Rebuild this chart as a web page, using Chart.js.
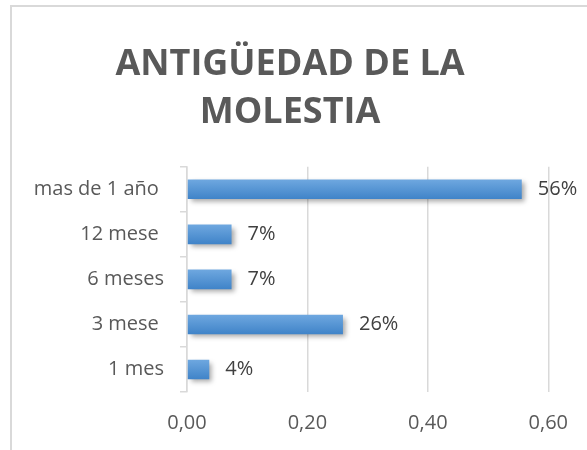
<!DOCTYPE html>
<html>
<head>
<meta charset="utf-8">
<script src="https://cdn.jsdelivr.net/npm/chart.js@4"></script>
<style>
  html, body { margin: 0; padding: 0; background: #fff; overflow: hidden; }
  #wrap { position: relative; width: 587px; height: 450px; }
  #frame { position: absolute; left: 10px; top: 5px; width: 620px; height: 500px;
           border: 2px solid #d9d9d9; box-sizing: border-box; pointer-events: none; }
</style>
</head>
<body>
<div id="wrap">
  <canvas id="chart" width="587" height="450"></canvas>
  <div id="frame"></div>
</div>
<script>
const titleLines = ['ANTIGÜEDAD DE LA', 'MOLESTIA'];
const categories = ['mas de 1 año ', '12 mese ', '6 meses', '3 mese ', '1 mes'];
const values = [0.556, 0.074, 0.074, 0.259, 0.037];
const xTicks = [0, 0.2, 0.4, 0.6];

const FONT = '"Open Sans", "Noto Sans", sans-serif';
const GREY = '#595959';

// gradient fill per bar, like the Excel style
function barFill(c) {
  const chart = c.chart;
  const y = chart.scales && chart.scales.y;
  if (!y || c.dataIndex === undefined) return '#5b9bd5';
  const cy = y.getPixelForValue(c.dataIndex);
  if (!isFinite(cy)) return '#5b9bd5';
  const g = chart.ctx.createLinearGradient(0, cy - 10, 0, cy + 10);
  g.addColorStop(0, '#6fa8e0');
  g.addColorStop(1, '#3f83c8');
  return g;
}

// drop shadow under the bars + value labels
const barExtras = {
  id: 'barExtras',
  beforeDatasetsDraw(chart) {
    const ctx = chart.ctx;
    ctx.save();
    ctx.shadowColor = 'rgba(0,0,0,0.35)';
    ctx.shadowBlur = 5;
    ctx.shadowOffsetX = 3;
    ctx.shadowOffsetY = 3;
  },
  afterDatasetsDraw(chart) {
    const ctx = chart.ctx;
    ctx.restore();
    const meta = chart.getDatasetMeta(0);
    ctx.save();
    ctx.font = '20px ' + FONT;
    ctx.fillStyle = '#404040';
    ctx.textAlign = 'left';
    ctx.textBaseline = 'middle';
    meta.data.forEach((bar, i) => {
      ctx.fillText(Math.round(values[i] * 100) + '%', bar.x + 16, bar.y);
    });
    ctx.restore();
  }
};

new Chart(document.getElementById('chart'), {
  type: 'bar',
  data: {
    labels: categories,
    datasets: [{
      data: values,
      backgroundColor: barFill,
      borderWidth: 0,
      barPercentage: 0.435,
      categoryPercentage: 1
    }]
  },
  options: {
    indexAxis: 'y',
    responsive: false,
    animation: false,
    layout: { padding: { left: 11, right: 18, top: 14, bottom: 15 } },
    plugins: {
      legend: { display: false },
      tooltip: { enabled: false },
      title: {
        display: true,
        text: titleLines,
        color: GREY,
        font: { family: FONT, size: 36, weight: 'bold', lineHeight: 1.33 },
        padding: { top: 27, bottom: 30 }
      }
    },
    scales: {
      x: {
        min: 0,
        max: 0.6,
        afterBuildTicks(scale) { scale.ticks = xTicks.map(v => ({ value: v })); },
        afterFit(scale) { scale.height = 43; },
        ticks: {
          color: GREY,
          padding: 19,
          font: { family: FONT, size: 20 },
          callback: v => v.toFixed(2).replace('.', ',')
        },
        grid: { color: '#d9d9d9', lineWidth: 1.5, drawTicks: false },
        border: { display: false }
      },
      y: {
        afterFit(scale) { scale.width = 176; },
        ticks: {
          color: GREY,
          padding: 16,
          font: { family: FONT, size: 20 }
        },
        grid: { drawOnChartArea: false, drawTicks: true, tickLength: 7, color: '#d9d9d9', lineWidth: 1.5 },
        border: { display: true, color: '#d9d9d9', width: 1.5 }
      }
    }
  },
  plugins: [barExtras]
});
</script>
</body>
</html>
